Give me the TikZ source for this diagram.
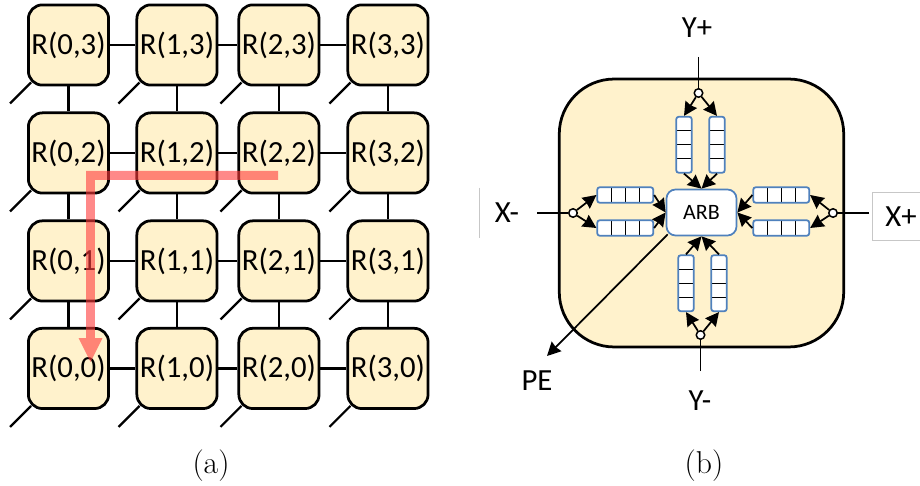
\documentclass[tikz,border=0pt]{standalone}
\usepackage{fontspec}
\newfontfamily\calibrifont{Carlito}
\usetikzlibrary{arrows.meta,positioning,calc}
\definecolor{routerfill}{HTML}{FFF2CC}
\definecolor{queueblue}{HTML}{4F81BD}
\definecolor{routered}{HTML}{FF3B3B}
\tikzset{
  router/.style={draw,line width=.55mm,fill=routerfill,rounded corners=2.8mm,minimum size=16.05mm,inner sep=0pt,font=\calibrifont\fontsize{17.5}{20}\selectfont},
  link/.style={line width=.45mm},
  tile/.style={draw,line width=.55mm,fill=routerfill,rounded corners=11mm,minimum width=56.9mm,minimum height=53.6mm},
  arb/.style={draw=queueblue,line width=.35mm,fill=white,rounded corners=1.8mm,minimum width=14mm,minimum height=9.2mm,inner sep=0pt,font=\calibrifont\fontsize{12.5}{14}\selectfont},
  vqueue/.style={draw=queueblue,line width=.35mm,fill=white,rounded corners=.5mm,minimum width=3.1mm,minimum height=11.2mm,inner sep=0pt,path picture={
    \foreach \f in {.25,.5,.75} \draw[black,line width=.2mm] ($(path picture bounding box.north west)!\f!(path picture bounding box.south west)$) -- ($(path picture bounding box.north east)!\f!(path picture bounding box.south east)$);}},
  hqueue/.style={draw=queueblue,line width=.35mm,fill=white,rounded corners=.5mm,minimum width=11.2mm,minimum height=3.1mm,inner sep=0pt,path picture={
    \foreach \f in {.25,.5,.75} \draw[black,line width=.2mm] ($(path picture bounding box.north west)!\f!(path picture bounding box.north east)$) -- ($(path picture bounding box.south west)!\f!(path picture bounding box.south east)$);}},
  junction/.style={circle,draw,line width=.3mm,fill=white,minimum size=1.7mm,inner sep=0pt},
  wire/.style={line width=.35mm},
  flow/.style={line width=.35mm,-{Stealth[length=2.7mm,width=2.7mm,inset=.2mm]}},
  port/.style={inner sep=0pt,font=\calibrifont\fontsize{17.5}{20}\selectfont},
  route/.style={draw=routered,line width=1.8mm,-{Triangle[length=4.8mm,width=4.8mm,line width=0pt]}},
  faint/.style={draw=black!22,line width=.2mm},
  caption/.style={inner sep=0pt,font=\fontsize{18}{21}\selectfont}
}
\begin{document}
\begin{tikzpicture}[x=.02cm,y=-.02cm]
  \useasboundingbox (0,0) rectangle (920,486);

  \node (r03) [router] at (68.5,45) {R(0,3)};
  \node (r13) [router, right=5.1mm of r03] {R(1,3)};
  \node (r23) [router, right=3.8mm of r13] {R(2,3)};
  \node (r33) [router, right=5.2mm of r23] {R(3,3)};
  \node (r02) [router, below=5mm of r03] {R(0,2)};
  \node (r12) [router, below=5mm of r13] {R(1,2)};
  \node (r22) [router, below=5mm of r23] {R(2,2)};
  \node (r32) [router, below=5mm of r33] {R(3,2)};
  \node (r01) [router, below=5mm of r02] {R(0,1)};
  \node (r11) [router, below=5mm of r12] {R(1,1)};
  \node (r21) [router, below=5mm of r22] {R(2,1)};
  \node (r31) [router, below=5mm of r32] {R(3,1)};
  \node (r00) [router, below=4.9mm of r01] {R(0,0)};
  \node (r10) [router, below=4.9mm of r11] {R(1,0)};
  \node (r20) [router, below=4.9mm of r21] {R(2,0)};
  \node (r30) [router, below=4.9mm of r31] {R(3,0)};

  \draw[link] (r03) -- (r13) (r13) -- (r23) (r23) -- (r33);
  \draw[link] (r02) -- (r12) (r12) -- (r22) (r22) -- (r32);
  \draw[link] (r01) -- (r11) (r11) -- (r21) (r21) -- (r31);
  \draw[link] (r00) -- (r10) (r10) -- (r20) (r20) -- (r30);
  \draw[link] (r03) -- (r02) (r02) -- (r01) (r01) -- (r00);
  \draw[link] (r13) -- (r12) (r12) -- (r11) (r11) -- (r10);
  \draw[link] (r23) -- (r22) (r22) -- (r21) (r21) -- (r20);
  \draw[link] (r33) -- (r32) (r32) -- (r31) (r31) -- (r30);

  \coordinate (s03) at ([shift={(-17,17)}]r03.south west); \draw[link] ([shift={(4,-4)}]r03.south west) -- (s03);
  \coordinate (s13) at ([shift={(-17,17)}]r13.south west); \draw[link] ([shift={(4,-4)}]r13.south west) -- (s13);
  \coordinate (s23) at ([shift={(-17,17)}]r23.south west); \draw[link] ([shift={(4,-4)}]r23.south west) -- (s23);
  \coordinate (s33) at ([shift={(-17,17)}]r33.south west); \draw[link] ([shift={(4,-4)}]r33.south west) -- (s33);
  \coordinate (s02) at ([shift={(-17,17)}]r02.south west); \draw[link] ([shift={(4,-4)}]r02.south west) -- (s02);
  \coordinate (s12) at ([shift={(-17,17)}]r12.south west); \draw[link] ([shift={(4,-4)}]r12.south west) -- (s12);
  \coordinate (s22) at ([shift={(-17,17)}]r22.south west); \draw[link] ([shift={(4,-4)}]r22.south west) -- (s22);
  \coordinate (s32) at ([shift={(-17,17)}]r32.south west); \draw[link] ([shift={(4,-4)}]r32.south west) -- (s32);
  \coordinate (s01) at ([shift={(-17,17)}]r01.south west); \draw[link] ([shift={(4,-4)}]r01.south west) -- (s01);
  \coordinate (s11) at ([shift={(-17,17)}]r11.south west); \draw[link] ([shift={(4,-4)}]r11.south west) -- (s11);
  \coordinate (s21) at ([shift={(-17,17)}]r21.south west); \draw[link] ([shift={(4,-4)}]r21.south west) -- (s21);
  \coordinate (s31) at ([shift={(-17,17)}]r31.south west); \draw[link] ([shift={(4,-4)}]r31.south west) -- (s31);
  \coordinate (s00) at ([shift={(-17,17)}]r00.south west); \draw[link] ([shift={(4,-4)}]r00.south west) -- (s00);
  \coordinate (s10) at ([shift={(-17,17)}]r10.south west); \draw[link] ([shift={(4,-4)}]r10.south west) -- (s10);
  \coordinate (s20) at ([shift={(-17,17)}]r20.south west); \draw[link] ([shift={(4,-4)}]r20.south west) -- (s20);
  \coordinate (s30) at ([shift={(-17,17)}]r30.south west); \draw[link] ([shift={(4,-4)}]r30.south west) -- (s30);

  \coordinate (routestart) at (278,175.5);
  \coordinate (routebend) at (90.5,175.5);
  \coordinate (routeend) at (90.5,362);
  \begin{scope}[transparency group,opacity=.6]
    \draw[route] (routestart) -- (routebend) -- (routeend);
  \end{scope}

  \node (capa) [caption] at (211,466) {(a)};

  \node (tile) [tile] at (701.5,213) {};
  \node (arb) [arb] at (701.5,212.5) {ARB};

  \node (qn1) [vqueue, above=3mm of arb.north, xshift=-3.5mm] {};
  \node (qn2) [vqueue, above=3mm of arb.north, xshift=3.1mm] {};
  \node (qs1) [vqueue, below=3.6mm of arb.south, xshift=-3.1mm] {};
  \node (qs2) [vqueue, below=3.6mm of arb.south, xshift=3.5mm] {};
  \node (qw1) [hqueue, left=2.3mm of arb.west, yshift=3.5mm] {};
  \node (qw2) [hqueue, left=2.3mm of arb.west, yshift=-3.1mm] {};
  \node (qe1) [hqueue, right=3mm of arb.east, yshift=3.5mm] {};
  \node (qe2) [hqueue, right=3mm of arb.east, yshift=-3.1mm] {};

  \node (jn) [junction] at (698.5,93) {};
  \node (js) [junction] at (700.5,335) {};
  \node (jw) [junction] at (573,213) {};
  \node (je) [junction] at (833,213) {};

  \node (yplus) [port] at (697,28) {Y+};
  \node (yminus) [port] at (700,401) {Y-};
  \node (xminus) [port, minimum height=10mm, minimum width=10.8mm] at (507,213) {X-};
  \node (xplus) [port, faint, minimum height=9.8mm, minimum width=11.6mm, draw] at (901,216.5) {X+};
  \node (pe) [port] at (537,381) {PE};

  \draw[faint] (xminus.north west) -- (xminus.south west);

  \coordinate (yplusend) at (698.5,57);
  \coordinate (yminusend) at (700.5,371);
  \coordinate (xminusend) at (537,213);
  \coordinate (xplusend) at (869,213);
  \coordinate (peend) at (547,356);

  \draw[wire] (yplusend) -- (jn);
  \draw[wire] (yminusend) -- (js);
  \draw[wire] (xminusend) -- (jw);
  \draw[wire] (xplusend) -- (je);

  \draw[flow] (jn) -- (qn1.north);
  \draw[flow] (jn) -- (qn2.north);
  \draw[flow] (js) -- (qs1.south);
  \draw[flow] (js) -- (qs2.south);
  \draw[flow] (jw) -- (qw1.west);
  \draw[flow] (jw) -- (qw2.west);
  \draw[flow] (je) -- (qe1.east);
  \draw[flow] (je) -- (qe2.east);

  \draw[flow] (qn1.south) -- (arb.north);
  \draw[flow] (qn2.south) -- (arb.north);
  \draw[flow] (qs1.north) -- (arb.south);
  \draw[flow] (qs2.north) -- (arb.south);
  \draw[flow] (qw1.east) -- (arb.west);
  \draw[flow] (qw2.east) -- (arb.west);
  \draw[flow] (qe1.west) -- (arb.east);
  \draw[flow] (qe2.west) -- (arb.east);
  \draw[flow] ([shift={(2,-2)}]arb.south west) -- (peend);

  \node (capb) [caption] at (704,466) {(b)};
\end{tikzpicture}
\end{document}
